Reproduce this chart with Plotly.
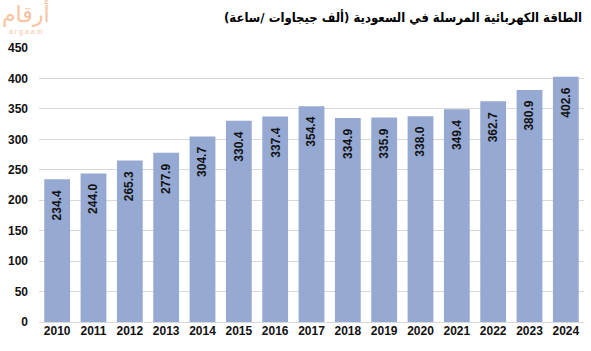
import plotly.graph_objects as go

years = ["2010", "2011", "2012", "2013", "2014", "2015", "2016", "2017",
         "2018", "2019", "2020", "2021", "2022", "2023", "2024"]
values = [234.4, 244.0, 265.3, 277.9, 304.7, 330.4, 337.4, 354.4,
          334.9, 335.9, 338.0, 349.4, 362.7, 380.9, 402.6]
y_ticks = [0, 50, 100, 150, 200, 250, 300, 350, 400, 450]
title = "الطاقة الكهربائية المرسلة في السعودية (ألف جيجاوات /ساعة)"

FONT = "Liberation Sans, Arial, sans-serif"

fig = go.Figure()
fig.add_trace(go.Bar(
    x=list(range(len(years))), y=values,
    marker=dict(color="#95A9D2", line=dict(width=0)),
    hoverinfo="y",
))

for i, v in enumerate(values):
    fig.add_annotation(
        x=i, y=v, text=f"<b>{v:.1f}</b>", showarrow=False,
        textangle=-90, yanchor="top", xanchor="center", yshift=-9,
        font=dict(family=FONT, size=12, color="#111111"),
    )

fig.add_annotation(
    xref="paper", yref="paper", x=1.0, y=1.0, yshift=31, xanchor="right", yanchor="middle",
    text=f"<b>{title}</b>", showarrow=False,
    font=dict(family="DejaVu Sans Condensed, DejaVu Sans", size=13, color="#000000"),
)
# logo
fig.add_annotation(
    xref="paper", yref="paper", x=0.0, y=1.0, xshift=-13, yshift=35, xanchor="center", yanchor="middle",
    text="أرقام", showarrow=False,
    font=dict(family="DejaVu Sans", size=22, color="#F8C3A0"),
)
fig.add_annotation(
    xref="paper", yref="paper", x=0.0, y=1.0, xshift=-13, yshift=16, xanchor="center", yanchor="middle",
    text="a r g a a m", showarrow=False,
    font=dict(family=FONT, size=7, color="#F8C3A0"),
)

fig.update_layout(
    width=591, height=351,
    margin=dict(l=39, r=7, t=48, b=29),
    paper_bgcolor="white", plot_bgcolor="white",
    bargap=0.29,
    showlegend=False,
    font=dict(family=FONT),
)
fig.update_xaxes(
    range=[-0.5, len(years) - 0.5],
    tickvals=list(range(len(years))), ticktext=[f"<b>{y}</b>" for y in years],
    showgrid=False, showline=False, zeroline=False, ticks="",
    tickfont=dict(family=FONT, size=12, color="#111111"),
)
fig.update_yaxes(
    range=[0, 450], tickvals=y_ticks, ticktext=[f"<b>{t}</b>" for t in y_ticks],
    showgrid=True, gridcolor="#D9D9D9", gridwidth=1,
    zeroline=True, zerolinecolor="#D9D9D9", zerolinewidth=1,
    ticks="", ticklabelstandoff=10,
    tickfont=dict(family=FONT, size=12, color="#111111"),
)

fig.write_html("out.html")
